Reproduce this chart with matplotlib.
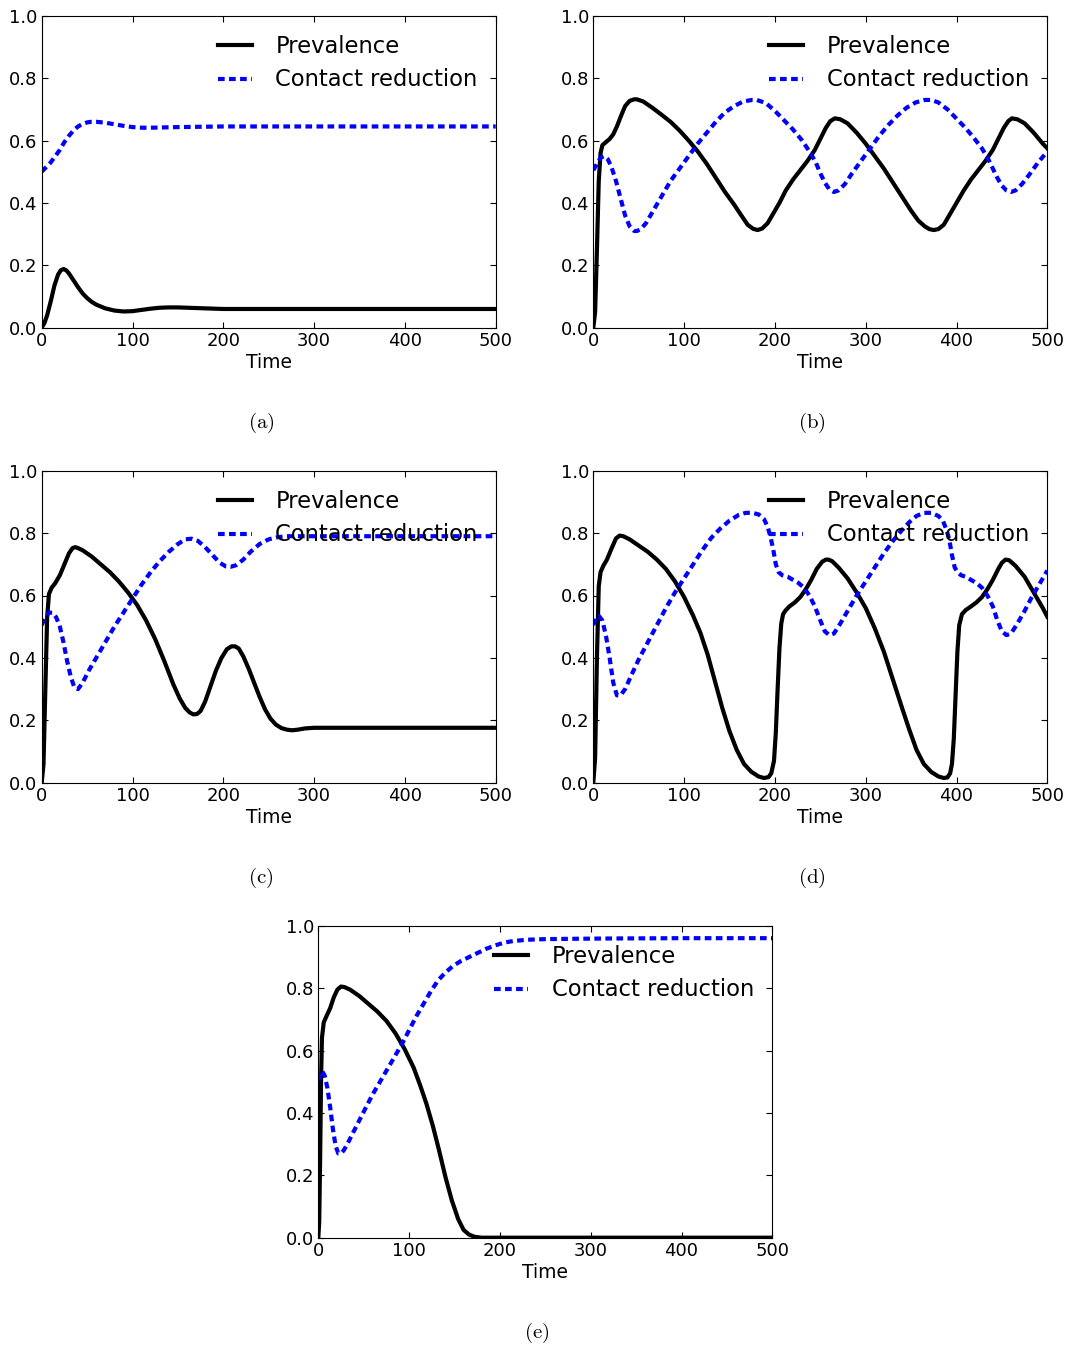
import matplotlib
matplotlib.use("Agg")
import matplotlib.pyplot as plt

plt.rcParams['mathtext.fontset'] = 'cm'

# ---- panel (a) ----
a_t_prev = [0, 3, 6, 10, 14, 18, 21, 24, 27, 30, 35, 40, 45, 50, 55, 60, 70, 80, 90, 100,
            110, 120, 130, 140, 150, 160, 180, 200, 250, 300, 400, 500]
a_prev = [0.0, 0.015, 0.04, 0.085, 0.135, 0.17, 0.184, 0.188, 0.184, 0.174, 0.152, 0.13, 0.11,
          0.095, 0.083, 0.074, 0.062, 0.055, 0.052, 0.053, 0.057, 0.061, 0.064, 0.065, 0.065,
          0.064, 0.062, 0.060, 0.060, 0.060, 0.060, 0.060]
a_t_cr = [0, 5, 10, 15, 20, 25, 30, 35, 40, 45, 50, 55, 60, 70, 80, 90, 100, 110, 120, 135,
          150, 175, 200, 250, 300, 500]
a_cr = [0.50, 0.515, 0.53, 0.55, 0.57, 0.595, 0.615, 0.632, 0.645, 0.653, 0.658, 0.66, 0.66,
        0.657, 0.652, 0.647, 0.643, 0.641, 0.641, 0.642, 0.643, 0.644, 0.645, 0.645, 0.645, 0.645]

# ---- panel (b) ----
b_t_prev = [0, 2, 4, 6, 8, 10, 14, 18, 22, 26, 30, 35, 40, 45, 48, 55, 65, 75, 85, 95, 105,
            115, 125, 135, 145, 155, 163, 170, 176, 181, 186, 192, 198, 205, 212, 220, 228,
            236, 244, 250, 256, 261, 266, 272, 280, 290, 300, 310, 320, 330, 340, 350, 358,
            365, 370, 375, 380, 386, 392, 400, 408, 416, 424, 432, 440, 446, 452, 457, 461,
            467, 475, 485, 495, 500]
b_prev = [0.0, 0.05, 0.25, 0.47, 0.56, 0.585, 0.595, 0.605, 0.62, 0.645, 0.675, 0.71, 0.727,
          0.732, 0.732, 0.725, 0.705, 0.683, 0.66, 0.632, 0.60, 0.565, 0.525, 0.48, 0.435,
          0.395, 0.36, 0.33, 0.317, 0.313, 0.318, 0.335, 0.365, 0.40, 0.44, 0.475, 0.505,
          0.535, 0.57, 0.605, 0.64, 0.662, 0.671, 0.668, 0.655, 0.625, 0.59, 0.55, 0.51,
          0.465, 0.42, 0.375, 0.343, 0.325, 0.316, 0.313, 0.316, 0.33, 0.36, 0.40, 0.44,
          0.475, 0.505, 0.535, 0.57, 0.605, 0.64, 0.662, 0.671, 0.668, 0.655, 0.625, 0.59, 0.575]
b_t_cr = [0, 4, 8, 12, 16, 20, 25, 30, 35, 40, 45, 48, 52, 58, 65, 75, 85, 95, 105, 115, 125,
          135, 145, 155, 165, 175, 180, 190, 200, 210, 220, 230, 238, 245, 250, 255, 260, 265,
          270, 277, 285, 295, 305, 315, 325, 335, 345, 355, 365, 372, 380, 390, 400, 410, 420,
          428, 435, 440, 445, 450, 455, 460, 465, 472, 480, 490, 500]
b_cr = [0.505, 0.525, 0.545, 0.55, 0.54, 0.515, 0.47, 0.415, 0.36, 0.325, 0.31, 0.31, 0.315,
        0.335, 0.37, 0.42, 0.47, 0.51, 0.55, 0.59, 0.625, 0.66, 0.69, 0.71, 0.725, 0.73, 0.73,
        0.72, 0.695, 0.665, 0.635, 0.60, 0.565, 0.53, 0.495, 0.465, 0.443, 0.435, 0.44, 0.46,
        0.495, 0.535, 0.575, 0.615, 0.65, 0.68, 0.705, 0.722, 0.73, 0.73, 0.722, 0.70, 0.67,
        0.64, 0.605, 0.575, 0.54, 0.51, 0.48, 0.455, 0.44, 0.435, 0.44, 0.46, 0.49, 0.53, 0.565]

# ---- panel (c) ----
c_t_prev = [0, 2, 4, 6, 8, 11, 15, 20, 25, 30, 34, 37, 40, 45, 55, 65, 75, 85, 95, 105, 115,
            125, 135, 145, 152, 158, 163, 167, 171, 175, 180, 186, 192, 198, 204, 209, 213,
            217, 222, 228, 234, 240, 246, 252, 258, 264, 270, 276, 282, 290, 300, 320, 350,
            400, 450, 500]
c_prev = [0.0, 0.06, 0.30, 0.53, 0.605, 0.625, 0.64, 0.665, 0.70, 0.735, 0.752, 0.755, 0.752,
          0.745, 0.725, 0.70, 0.675, 0.645, 0.61, 0.57, 0.52, 0.46, 0.39, 0.315, 0.27, 0.24,
          0.225, 0.219, 0.22, 0.23, 0.26, 0.31, 0.36, 0.40, 0.428, 0.437, 0.437, 0.43, 0.405,
          0.365, 0.32, 0.275, 0.235, 0.205, 0.186, 0.175, 0.17, 0.168, 0.17, 0.174, 0.176,
          0.176, 0.176, 0.176, 0.176, 0.176]
c_t_cr = [0, 4, 8, 12, 16, 20, 24, 28, 32, 36, 40, 45, 52, 60, 70, 80, 90, 100, 110, 120, 130,
          140, 150, 158, 165, 172, 180, 188, 196, 203, 208, 214, 222, 230, 240, 250, 260, 270,
          285, 300, 500]
c_cr = [0.505, 0.53, 0.545, 0.545, 0.53, 0.50, 0.45, 0.39, 0.34, 0.305, 0.30, 0.32, 0.36,
        0.40, 0.45, 0.50, 0.545, 0.59, 0.635, 0.675, 0.71, 0.74, 0.765, 0.78, 0.782, 0.775,
        0.755, 0.73, 0.705, 0.693, 0.692, 0.697, 0.715, 0.74, 0.765, 0.78, 0.787, 0.79, 0.79,
        0.79, 0.79]

# ---- panel (d) ----
d_t_prev = [0, 2, 4, 6, 8, 11, 15, 20, 25, 29, 33, 40, 50, 60, 70, 80, 90, 100, 110, 118,
            126, 134, 142, 150, 158, 166, 174, 182, 188, 193, 196, 199, 201, 203, 205, 207,
            209, 212, 216, 222, 228, 234, 240, 246, 252, 256, 259, 263, 270, 280, 290, 300,
            310, 320, 330, 340, 348, 356, 364, 372, 380, 386, 390, 393, 395, 397, 399, 401,
            403, 406, 410, 416, 422, 428, 434, 440, 446, 450, 454, 458, 465, 475, 485, 495, 500]
d_prev = [0.0, 0.08, 0.40, 0.63, 0.675, 0.695, 0.715, 0.75, 0.783, 0.792, 0.79, 0.78, 0.76,
          0.74, 0.715, 0.685, 0.645, 0.595, 0.535, 0.48, 0.41, 0.325, 0.24, 0.165, 0.105,
          0.06, 0.035, 0.02, 0.015, 0.018, 0.03, 0.07, 0.16, 0.30, 0.43, 0.51, 0.54, 0.553,
          0.565, 0.578, 0.595, 0.62, 0.65, 0.685, 0.708, 0.715, 0.715, 0.71, 0.69, 0.655,
          0.61, 0.56, 0.495, 0.42, 0.33, 0.24, 0.17, 0.105, 0.06, 0.035, 0.02, 0.015, 0.017,
          0.03, 0.06, 0.14, 0.28, 0.42, 0.505, 0.54, 0.553, 0.565, 0.578, 0.595, 0.62, 0.65,
          0.685, 0.705, 0.715, 0.713, 0.695, 0.66, 0.61, 0.56, 0.532]
d_t_cr = [0, 3, 6, 10, 14, 18, 22, 26, 30, 35, 42, 50, 60, 70, 80, 90, 100, 110, 120, 130,
          140, 150, 160, 168, 175, 182, 188, 192, 195, 198, 201, 204, 208, 214, 220, 226, 232,
          238, 244, 250, 255, 260, 265, 272, 280, 290, 300, 310, 320, 330, 340, 348, 356, 364,
          372, 380, 385, 389, 392, 395, 398, 401, 405, 410, 416, 422, 428, 434, 440, 445, 450,
          455, 460, 466, 474, 482, 490, 500]
d_cr = [0.505, 0.53, 0.535, 0.52, 0.47, 0.40, 0.32, 0.28, 0.28, 0.30, 0.345, 0.395, 0.45,
        0.505, 0.56, 0.61, 0.655, 0.70, 0.745, 0.785, 0.815, 0.84, 0.858, 0.865, 0.865, 0.86,
        0.845, 0.82, 0.79, 0.75, 0.70, 0.675, 0.665, 0.66, 0.65, 0.64, 0.625, 0.60, 0.565,
        0.52, 0.485, 0.473, 0.478, 0.51, 0.55, 0.60, 0.645, 0.69, 0.735, 0.775, 0.81, 0.835,
        0.855, 0.865, 0.865, 0.855, 0.84, 0.81, 0.78, 0.73, 0.69, 0.675, 0.665, 0.66, 0.65,
        0.64, 0.625, 0.60, 0.565, 0.52, 0.485, 0.473, 0.478, 0.505, 0.545, 0.59, 0.63, 0.68]

# ---- panel (e) ----
e_t_prev = [0, 1, 2, 3, 4, 6, 9, 13, 17, 21, 25, 29, 35, 45, 55, 65, 75, 85, 95, 105, 112,
            119, 126, 133, 140, 147, 154, 160, 166, 172, 180, 190, 200, 500]
e_prev = [0.0, 0.05, 0.25, 0.50, 0.64, 0.69, 0.71, 0.735, 0.77, 0.795, 0.805, 0.803, 0.795,
          0.775, 0.75, 0.725, 0.695, 0.655, 0.605, 0.545, 0.49, 0.43, 0.36, 0.28, 0.195, 0.12,
          0.06, 0.025, 0.01, 0.003, 0.0, 0.0, 0.0, 0.0]
e_t_cr = [0, 2, 4, 7, 10, 13, 16, 19, 22, 25, 28, 32, 38, 45, 52, 60, 68, 76, 84, 92, 100,
          108, 116, 124, 132, 140, 148, 156, 165, 175, 185, 195, 205, 215, 230, 250, 280, 320,
          400, 500]
e_cr = [0.505, 0.52, 0.535, 0.52, 0.48, 0.42, 0.35, 0.295, 0.27, 0.27, 0.28, 0.30, 0.335,
        0.375, 0.415, 0.46, 0.50, 0.54, 0.58, 0.62, 0.665, 0.71, 0.75, 0.79, 0.825, 0.85,
        0.87, 0.885, 0.898, 0.912, 0.926, 0.937, 0.946, 0.951, 0.955, 0.957, 0.958, 0.959,
        0.96, 0.96]

x_ticks = [0, 100, 200, 300, 400, 500]
y_ticks = [0.0, 0.2, 0.4, 0.6, 0.8, 1.0]


def draw_panel(ax, t_prev, prev, t_cr, cr):
    ax.plot(t_prev, prev, color='black', lw=3, label='Prevalence')
    ax.plot(t_cr, cr, color='blue', lw=3, dashes=(1.6, 1.05), label='Contact reduction')
    ax.set_xlim(0, 500)
    ax.set_ylim(0, 1)
    ax.set_xticks(x_ticks)
    ax.set_yticks(y_ticks)
    ax.set_yticklabels(['%.1f' % v for v in y_ticks])
    ax.tick_params(direction='in', top=True, right=True, length=4, width=0.8,
                   labelsize=13, pad=3)
    ax.set_xlabel('Time', fontsize=13.5, labelpad=2)
    ax.legend(loc='upper right', bbox_to_anchor=(0.96, 0.938), frameon=False,
              fontsize=16.3, handlelength=1.5, handletextpad=1.05, labelspacing=0.46,
              borderpad=0, borderaxespad=0)


fig = plt.figure(figsize=(10.75, 13.49), dpi=100)
w, h = 454 / 1075, 312 / 1349
panels = [
    ((41.7, 327.7), a_t_prev, a_prev, a_t_cr, a_cr, '(a)', (261, 423)),
    ((593.3, 327.7), b_t_prev, b_prev, b_t_cr, b_cr, '(b)', (812, 423)),
    ((41.7, 782.7), c_t_prev, c_prev, c_t_cr, c_cr, '(c)', (261, 878)),
    ((593.3, 782.7), d_t_prev, d_prev, d_t_cr, d_cr, '(d)', (812, 878)),
    ((318.3, 1237.7), e_t_prev, e_prev, e_t_cr, e_cr, '(e)', (537, 1333)),
]
for (x0, y0), tp, p, tc, c, cap, (cx, cy) in panels:
    ax = fig.add_axes([x0 / 1075, 1 - y0 / 1349, w, h])
    draw_panel(ax, tp, p, tc, c)
    fig.text(cx / 1075, 1 - cy / 1349, r'$\mathrm{%s}$' % cap, fontsize=15,
             ha='center', va='center')

fig.savefig('out.png', dpi=100)
